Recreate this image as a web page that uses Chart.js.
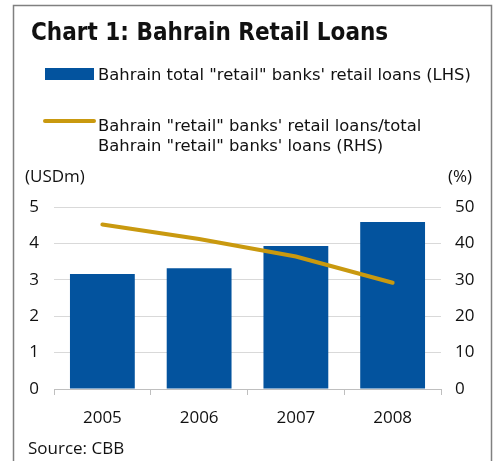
<!DOCTYPE html>
<html>
<head>
<meta charset="utf-8">
<script src="https://cdn.jsdelivr.net/npm/chart.js@4.4.1/dist/chart.umd.min.js"></script>
<style>
  html, body { margin: 0; padding: 0; background: #ffffff; }
  #wrap { position: relative; width: 495px; height: 461px; }
</style>
</head>
<body>
<div id="wrap"><canvas id="c" width="495" height="461"></canvas></div>
<script>
// Bahrain retail loans, 2005-2008
const years = ['2005', '2006', '2007', '2008'];
const retailLoans = [3.16, 3.32, 3.93, 4.59];      // USDm, left axis
const retailShare = [45.2, 41.2, 36.4, 29.2];      // %, right axis
const leftTicks = [0, 1, 2, 3, 4, 5];
const rightTicks = [0, 10, 20, 30, 40, 50];

const chartTitle = 'Chart 1: Bahrain Retail Loans';
const barLabel = 'Bahrain total "retail" banks\' retail loans (LHS)';
const lineLabel = ['Bahrain "retail" banks\' retail loans/total', 'Bahrain "retail" banks\' loans (RHS)'];
const leftUnit = '(USDm)';
const rightUnit = '(%)';
const sourceNote = 'Source: CBB';

const BLUE = '#03539e';
const GOLD = '#c9990f';
const titleFont = "'DejaVu Sans Condensed', 'DejaVu Sans', sans-serif";
const legendFont = "'DejaVu Sans', sans-serif";
const axisFont = "'Open Sans', 'Noto Sans', sans-serif";

// Frame, heading, legend, unit captions and source line
const decorations = {
  id: 'decorations',
  beforeDraw(chart) {
    const ctx = chart.ctx;
    ctx.save();
    ctx.fillStyle = '#ffffff';
    ctx.fillRect(0, 0, chart.width, chart.height);
    ctx.restore();
  },
  afterDraw(chart) {
    const ctx = chart.ctx;
    ctx.save();
    ctx.strokeStyle = '#808080';
    ctx.lineWidth = 1.5;
    ctx.strokeRect(13.5, 5.5, 478, 480);

    ctx.fillStyle = '#111111';
    ctx.textBaseline = 'alphabetic';
    ctx.textAlign = 'left';
    ctx.font = 'bold 24px ' + titleFont;
    ctx.fillText(chartTitle, 31, 39.5);

    const ds = chart.data.datasets;
    ctx.fillStyle = ds[0].backgroundColor;
    ctx.fillRect(45, 68, 49, 12);
    ctx.strokeStyle = ds[1].borderColor;
    ctx.lineWidth = 4;
    ctx.lineCap = 'round';
    ctx.beginPath();
    ctx.moveTo(45, 121);
    ctx.lineTo(94, 121);
    ctx.stroke();

    ctx.fillStyle = '#111111';
    ctx.font = '16.4px ' + legendFont;
    ctx.fillText(ds[0].label, 98, 79.5);
    const lbl = ds[1].label;
    lbl.forEach((t, i) => ctx.fillText(t, 98, 130.5 + i * 20.5));

    ctx.font = '17px ' + axisFont;
    ctx.fillText(leftUnit, 25, 182);
    ctx.textAlign = 'right';
    ctx.fillText(rightUnit, 472, 182);
    ctx.textAlign = 'left';
    ctx.fillText(sourceNote, 28, 454);
    ctx.restore();
  }
};

new Chart(document.getElementById('c'), {
  data: {
    labels: years,
    datasets: [
      {
        type: 'bar',
        label: barLabel,
        data: retailLoans,
        backgroundColor: BLUE,
        yAxisID: 'yL',
        barPercentage: 0.67,
        categoryPercentage: 1,
        order: 2
      },
      {
        type: 'line',
        label: lineLabel,
        data: retailShare,
        borderColor: GOLD,
        backgroundColor: GOLD,
        borderWidth: 4,
        borderCapStyle: 'round',
        pointRadius: 0,
        tension: 0,
        yAxisID: 'yR',
        order: 1
      }
    ]
  },
  plugins: [decorations],
  options: {
    responsive: false,
    animation: false,
    events: [],
    layout: { padding: { top: 207, left: 0, right: 0, bottom: 0 } },
    plugins: { legend: { display: false }, title: { display: false }, tooltip: { enabled: false } },
    scales: {
      x: {
        offset: true,
        grid: { drawOnChartArea: false, drawTicks: true, tickLength: 6, color: '#bfbfbf', offset: true },
        border: { display: true, color: '#bfbfbf', width: 1 },
        ticks: { color: '#111111', font: { family: axisFont, size: 17 }, padding: 13, maxRotation: 0 },
        afterFit(s) { s.height = 72; }
      },
      yL: {
        position: 'left',
        min: 0, max: 5,
        afterBuildTicks(s) { s.ticks = leftTicks.map(v => ({ value: v })); },
        grid: { color: '#d9d9d9', drawTicks: false },
        border: { display: false },
        ticks: { color: '#111111', font: { family: axisFont, size: 17 }, padding: 15 },
        afterFit(s) { s.width = 54; }
      },
      yR: {
        position: 'right',
        min: 0, max: 50,
        afterBuildTicks(s) { s.ticks = rightTicks.map(v => ({ value: v })); },
        grid: { display: false, drawTicks: false },
        border: { display: false },
        ticks: { color: '#111111', font: { family: axisFont, size: 17 }, padding: 14 },
        afterFit(s) { s.width = 54; }
      }
    }
  }
});
</script>
</body>
</html>
